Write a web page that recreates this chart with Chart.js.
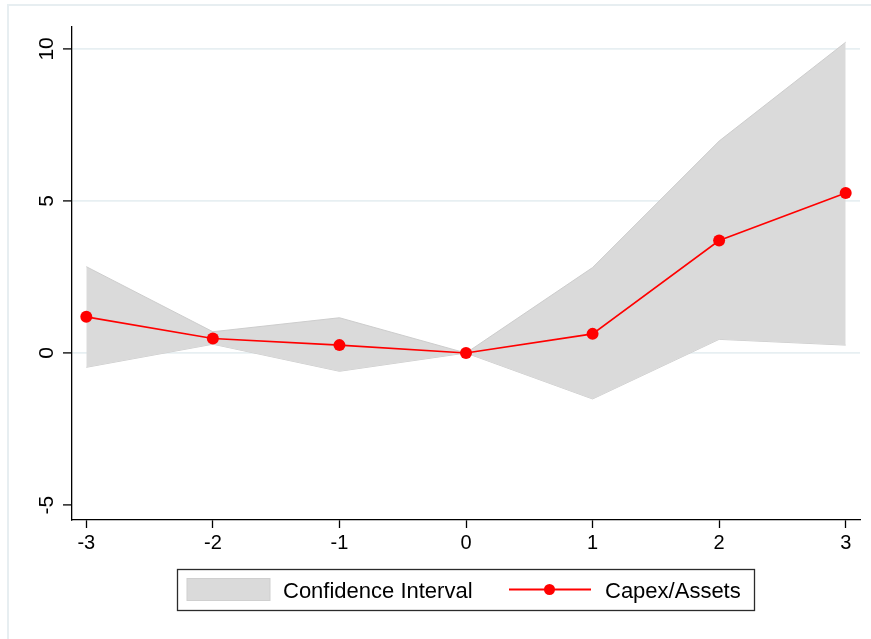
<!DOCTYPE html>
<html>
<head>
<meta charset="utf-8">
<script src="https://cdn.jsdelivr.net/npm/chart.js@4/dist/chart.umd.min.js"></script>
<style>
  html, body { margin: 0; padding: 0; background: #ffffff; }
  #wrap { width: 871px; height: 639px; position: relative; }
</style>
</head>
<body>
<div id="wrap"><canvas id="c" width="871" height="639"></canvas></div>
<script>
// Event time relative to the event year
const eventYears = [-3, -2, -1, 0, 1, 2, 3];
// Estimated effect on Capex/Assets
const capexAssets = [1.19, 0.48, 0.26, 0, 0.63, 3.70, 5.26];
// Confidence band bounds
const ciUpper = [2.84, 0.70, 1.16, 0, 2.81, 6.97, 10.22];
const ciLower = [-0.47, 0.29, -0.60, 0, -1.51, 0.45, 0.26];
// Axis ticks
const xTickValues = [-3, -2, -1, 0, 1, 2, 3];
const yTickValues = [-5, 0, 5, 10];
// Legend entries
const legendBandLabel = 'Confidence Interval';
const legendLineLabel = 'Capex/Assets';

const FONT = '"Liberation Sans", Arial, Helvetica, sans-serif';
const pts = (ys) => eventYears.map((x, i) => ({ x: x, y: ys[i] }));

// Outer graph-region frame
const framePlugin = {
  id: 'frame',
  beforeDraw(chart) {
    const ctx = chart.ctx;
    ctx.save();
    ctx.fillStyle = '#ffffff';
    ctx.fillRect(0, 0, chart.width, chart.height);
    ctx.strokeStyle = '#e7eef1';
    ctx.lineWidth = 2;
    ctx.strokeRect(8, 5, chart.width + 20, chart.height + 20);
    ctx.restore();
  }
};

// Vertical y tick labels, placed at the scale's tick positions
const yLabelPlugin = {
  id: 'yLabels',
  afterDraw(chart) {
    const ys = chart.scales.y;
    const ctx = chart.ctx;
    ctx.save();
    ctx.fillStyle = '#000000';
    ctx.font = '21px ' + FONT;
    ctx.textAlign = 'center';
    ctx.textBaseline = 'alphabetic';
    ys.ticks.forEach(t => {
      const py = ys.getPixelForValue(t.value);
      ctx.save();
      ctx.translate(52.5, py);
      ctx.rotate(-Math.PI / 2);
      ctx.fillText(String(t.value), 0, 0);
      ctx.restore();
    });
    ctx.restore();
  }
};

// Boxed legend below the plot
const legendPlugin = {
  id: 'boxLegend',
  afterDraw(chart) {
    const ctx = chart.ctx;
    ctx.save();
    ctx.strokeStyle = '#2b2b2b';
    ctx.lineWidth = 1.3;
    ctx.strokeRect(177.5, 569.5, 577, 41);

    ctx.fillStyle = '#dadada';
    ctx.fillRect(187, 578.5, 83, 22);
    ctx.strokeStyle = '#cfcfcf';
    ctx.lineWidth = 1;
    ctx.strokeRect(187, 578.5, 83, 22);

    ctx.fillStyle = '#000000';
    ctx.font = '22px ' + FONT;
    ctx.textAlign = 'left';
    ctx.textBaseline = 'alphabetic';
    ctx.fillText(legendBandLabel, 283, 598);

    ctx.strokeStyle = '#ff0000';
    ctx.lineWidth = 1.8;
    ctx.beginPath();
    ctx.moveTo(509, 589.5);
    ctx.lineTo(591, 589.5);
    ctx.stroke();
    ctx.fillStyle = '#ff0000';
    ctx.beginPath();
    ctx.arc(549.5, 589.5, 5.5, 0, Math.PI * 2);
    ctx.fill();

    ctx.fillStyle = '#000000';
    ctx.fillText(legendLineLabel, 605, 598);
    ctx.restore();
  }
};

new Chart(document.getElementById('c'), {
  type: 'line',
  data: {
    datasets: [
      {
        label: legendLineLabel,
        data: pts(capexAssets),
        borderColor: '#ff0000',
        backgroundColor: '#ff0000',
        borderWidth: 1.6,
        pointRadius: 6,
        pointBorderWidth: 0,
        pointBackgroundColor: '#ff0000',
        tension: 0,
        fill: false,
        order: 0
      },
      {
        label: legendBandLabel,
        data: pts(ciUpper),
        borderColor: '#cdcdcd',
        borderWidth: 1,
        backgroundColor: '#dadada',
        pointRadius: 0,
        tension: 0,
        fill: '+1',
        order: 1
      },
      {
        label: 'lower',
        data: pts(ciLower),
        borderColor: '#cdcdcd',
        borderWidth: 1,
        backgroundColor: '#dadada',
        pointRadius: 0,
        tension: 0,
        fill: false,
        order: 2
      }
    ]
  },
  options: {
    responsive: false,
    animation: false,
    events: [],
    layout: { padding: { top: 27, right: 11, left: 0, bottom: 0 } },
    plugins: {
      legend: { display: false },
      tooltip: { enabled: false },
      title: { display: false }
    },
    scales: {
      x: {
        type: 'linear',
        min: -3.113,
        max: 3.113,
        afterBuildTicks: (axis) => { axis.ticks = xTickValues.map(v => ({ value: v })); },
        afterFit: (axis) => { axis.height = 119; },
        border: { display: true, color: '#000000', width: 1.3 },
        grid: {
          drawOnChartArea: false,
          drawTicks: true,
          tickLength: 8,
          tickColor: '#000000',
          tickWidth: 1.3
        },
        ticks: {
          color: '#000000',
          font: { family: FONT, size: 20 },
          padding: 3,
          maxRotation: 0,
          minRotation: 0,
          autoSkip: false,
          callback: (v) => String(v)
        }
      },
      y: {
        type: 'linear',
        min: -5.49,
        max: 10.72,
        afterBuildTicks: (axis) => { axis.ticks = yTickValues.map(v => ({ value: v })); },
        afterFit: (axis) => { axis.width = 72; },
        border: { display: true, color: '#000000', width: 1.3 },
        grid: {
          drawOnChartArea: true,
          color: (ctx) => (ctx.tick && ctx.tick.value === -5) ? 'rgba(0,0,0,0)' : '#e7eff2',
          lineWidth: 1.8,
          drawTicks: true,
          tickLength: 9,
          tickColor: '#000000',
          tickWidth: 1.3
        },
        ticks: {
          display: false
        }
      }
    }
  },
  plugins: [framePlugin, yLabelPlugin, legendPlugin]
});
</script>
</body>
</html>
